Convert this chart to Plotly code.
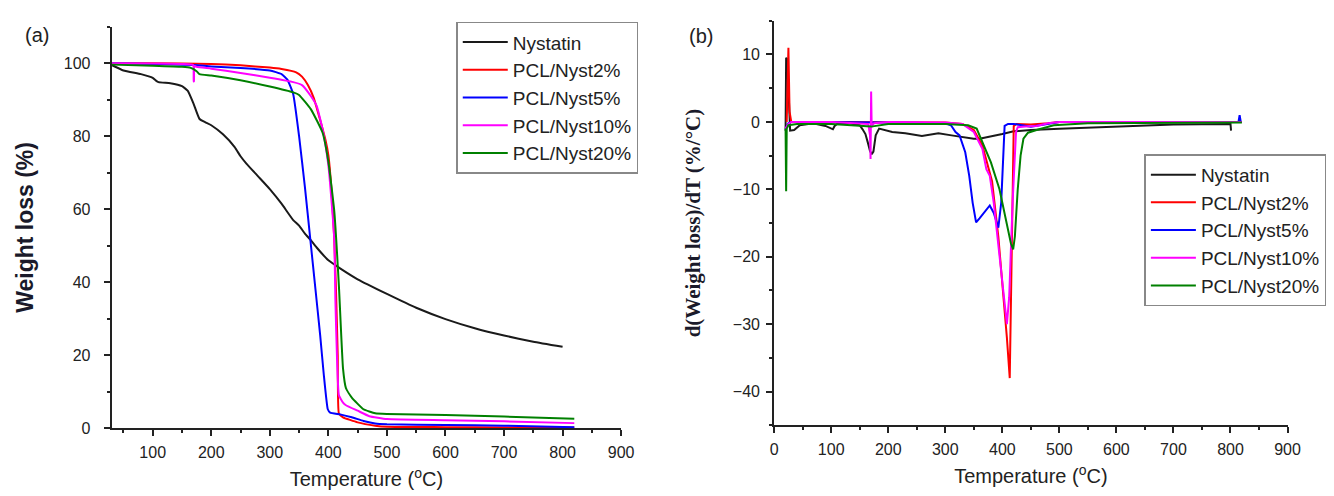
import plotly.graph_objects as go

# ---------------- Panel (a): TGA weight loss ----------------
names = ["Nystatin", "PCL/Nyst2%", "PCL/Nyst5%", "PCL/Nyst10%", "PCL/Nyst20%"]
colors = ["#1a1a1a", "#ff0000", "#0000ff", "#ff00ff", "#008000"]

a_nys_x = [30, 50, 80, 100, 105, 110, 130, 150, 160, 170, 180, 190, 200, 220, 240, 250, 260, 280, 300,
           320, 340, 350, 360, 370, 380, 400, 420, 450, 500, 550, 600, 650, 700, 750, 800]
a_nys_y = [99.5, 98, 97, 96, 95.3, 94.8, 94.5, 93.7, 92.4, 88.8, 84.7, 83.8, 83, 80.5, 77, 74.5, 72.5, 69, 65.5,
           61.5, 57, 55.5, 53.3, 51.5, 49.5, 46, 43.8, 40.8, 36.8, 33, 29.9, 27.4, 25.4, 23.7, 22.3]

a_p2_x = [30, 100, 200, 250, 300, 320, 345, 355, 365, 375, 385, 395, 400, 405, 410, 413, 416, 418, 425, 450, 480, 500, 600, 700, 820]
a_p2_y = [100, 100, 99.8, 99.4, 98.8, 98.4, 97.5, 96.3, 94, 90.5, 85, 79, 74.8, 66, 52, 38, 20, 4, 3, 1.6, 0.7, 0.4, 0.3, 0.2, 0.2]

a_p5_x = [30, 100, 170, 200, 250, 300, 320, 330, 340, 350, 360, 369, 378, 386, 392, 399, 403, 420, 440, 460, 480, 500, 600, 700, 820]
a_p5_y = [100, 99.8, 99.5, 99.1, 98.7, 98, 97, 95.5, 91.5, 80, 66, 52, 38, 25.5, 15, 5.2, 4.3, 3.8, 3, 2, 1.3, 1.1, 0.9, 0.7, 0.3]

a_p10_x = [30, 100, 150, 169, 170, 170.5, 171, 175, 200, 250, 300, 340, 355, 370, 380, 390, 400, 405, 410, 412, 415, 418, 425, 430,
           450, 470, 500, 600, 700, 820]
a_p10_y = [100, 99.9, 99.8, 99.5, 95, 95, 99.3, 99, 98.5, 97.3, 96, 94.8, 94, 91, 88.3, 82, 72, 63, 52, 35, 18, 9, 7, 6.3,
           4.8, 3.3, 2.5, 2.2, 1.9, 1.4]

a_p20_x = [30, 100, 150, 165, 175, 180, 200, 250, 300, 340, 350, 370, 390, 400, 410, 418, 425, 430, 440, 460, 480, 500, 600, 700, 820]
a_p20_y = [99.6, 99.3, 99, 98.7, 97.8, 97, 96.6, 95.3, 93.6, 92, 91.3, 87.4, 81, 73, 59.6, 39, 16.4, 11, 8.4, 5.2, 4.1, 3.9, 3.6, 3.2, 2.6]

# ---------------- Panel (b): DTG ----------------
b_nys_x = [20, 21, 23, 28, 35, 45, 60, 74, 90, 100, 103, 106, 112, 132, 150, 155, 160, 164, 168, 171, 174, 178, 184,
           207, 230, 259, 288, 311, 334, 350, 360, 380, 400, 420, 450, 500, 600, 700, 799, 800, 801]
b_nys_y = [-1.3, 9.5, 9.3, -1.3, -1.2, -0.5, -0.3, -0.3, -0.6, -1.0, -1.1, -0.6, -0.2, -0.2, -0.5, -1.1, -1.8, -3.0, -4.3, -4.8, -4.4, -2.0, -1.0,
           -1.5, -1.7, -2.1, -1.7, -2.0, -2.3, -2.5, -2.5, -2.2, -1.8, -1.4, -1.2, -1.0, -0.7, -0.4, -0.3, -0.3, -1.3]

b_p2_x = [22, 24, 25, 27, 30, 100, 200, 300, 330, 350, 365, 382, 393, 403, 408, 413, 417, 420, 425, 450, 480, 500, 600, 700, 820]
b_p2_y = [0, 8, 11, 1.5, 0, 0, 0, -0.1, -0.3, -1.2, -3.5, -8.8, -17, -26.8, -32, -38, -17, -0.6, -0.3, -0.4, -0.2, 0, 0, 0, 0]

b_p5_x = [20, 25, 30, 100, 200, 300, 310, 318, 325, 335, 342, 348, 354, 360, 368, 378, 385, 393, 398, 401, 404, 410, 420,
          450, 470, 500, 600, 700, 814, 816, 818]
b_p5_y = [-1, -0.2, 0, 0, -0.1, -0.2, -0.5, -1.5, -2, -4.5, -8, -12, -14.9, -14.3, -13.5, -12.4, -13.5, -15.7, -12, -5, -0.6, -0.3, -0.3,
          -0.7, -0.4, 0, 0, 0, 0, 1, 0]

b_p10_x = [20, 25, 30, 100, 165, 168, 169, 170, 171, 172, 175, 200, 300, 330, 350, 365, 372, 378, 385, 395, 403, 408, 412, 418, 424, 427,
           440, 460, 480, 500, 600, 700, 820]
b_p10_y = [-1, -0.3, 0, 0, -0.3, -2, -5.5, 4.5, -0.8, -0.5, -0.2, 0, -0.1, -0.3, -1.5, -4, -7, -8, -12, -20, -27, -30, -26, -12, -1.5, -0.8,
           -0.7, -0.6, -0.2, 0, 0, 0, 0]

b_p20_x = [20, 21, 22, 25, 40, 100, 170, 200, 300, 340, 355, 365, 380, 395, 408, 415, 419, 422, 427, 432, 437, 445, 460, 490,
           550, 700, 820]
b_p20_y = [-1, -10.3, -1, -0.5, -0.3, -0.3, -0.7, -0.3, -0.3, -0.5, -1, -3, -6, -10, -15, -18, -18.9, -17, -10, -5, -2.5, -1.6, -1.2, -0.5,
           -0.2, -0.1, -0.1]

a_sets = [(a_nys_x, a_nys_y), (a_p2_x, a_p2_y), (a_p5_x, a_p5_y), (a_p10_x, a_p10_y), (a_p20_x, a_p20_y)]
b_sets = [(b_nys_x, b_nys_y), (b_p2_x, b_p2_y), (b_p5_x, b_p5_y), (b_p10_x, b_p10_y), (b_p20_x, b_p20_y)]

fig = go.Figure()
for i, (xs, ys) in enumerate(a_sets):
    fig.add_trace(go.Scatter(x=xs, y=ys, mode="lines", name=names[i], line=dict(color=colors[i], width=2, shape="spline", smoothing=0.4),
                             xaxis="x", yaxis="y", legend="legend"))
for i, (xs, ys) in enumerate(b_sets):
    fig.add_trace(go.Scatter(x=xs, y=ys, mode="lines", name=names[i], line=dict(color=colors[i], width=2),
                             xaxis="x2", yaxis="y2", legend="legend2"))

W, H = 1334, 496
font_family = "Liberation Sans, Arial, sans-serif"
axis_common = dict(showline=True, linecolor="#222", linewidth=2, ticks="outside", ticklen=6, tickwidth=1.5,
                   tickcolor="#222", showgrid=False, zeroline=False, mirror=False,
                   tickfont=dict(family=font_family, size=16, color="#222"))
minor_common = dict(ticks="outside", ticklen=3, tickcolor="#222", tickwidth=1.5)
xtitle_font = dict(family=font_family, size=20, color="#222")
legend_font = dict(family=font_family, size=19, color="#222")

fig.update_layout(
    width=W, height=H,
    margin=dict(l=0, r=0, t=0, b=0),
    paper_bgcolor="white", plot_bgcolor="white",
    showlegend=True,
    xaxis=dict(domain=[101 / W, 617 / W], range=[30, 900], anchor="y", tickmode="array",
               tickvals=[100, 200, 300, 400, 500, 600, 700, 800, 900],
               minor=dict(tickvals=[50, 150, 250, 350, 450, 550, 650, 750, 850], **minor_common),
               ticklabelstandoff=3,
               title=dict(text="Temperature (<sup>o</sup>C)", font=xtitle_font, standoff=12),
               **axis_common),
    yaxis=dict(domain=[1 - 428 / H, 1 - 19 / H], range=[0, 110], anchor="x", tickmode="array",
               tickvals=[0, 20, 40, 60, 80, 100],
               minor=dict(tickvals=[10, 30, 50, 70, 90, 110], **minor_common),
               ticklabelstandoff=10,
               title=dict(text="<b>Weight loss (%)</b>", font=dict(family=font_family, size=23, color="#1a1a2a"), standoff=24),
               **axis_common),
    xaxis2=dict(domain=[772 / W, 1292 / W], range=[0, 900], anchor="y2", tickmode="array",
                tickvals=[0, 100, 200, 300, 400, 500, 600, 700, 800, 900],
                minor=dict(tickvals=[50, 150, 250, 350, 450, 550, 650, 750, 850], **minor_common),
                ticklabelstandoff=3,
                title=dict(text="Temperature (<sup>o</sup>C)", font=xtitle_font, standoff=12),
                **axis_common),
    yaxis2=dict(domain=[1 - 425 / H, 1 - 13 / H], range=[-45, 15], anchor="x2", tickmode="array",
                tickvals=[-40, -30, -20, -10, 0, 10],
                minor=dict(tickvals=[-45, -35, -25, -15, -5, 5, 15], **minor_common),
                ticklabelstandoff=3,
                title=dict(text="<b>d(Weight loss)/dT (%/°C)</b>", font=dict(family="Liberation Serif, Times New Roman, serif", size=21, color="#1a1a2a"), standoff=26),
                **axis_common),
    legend=dict(x=450 / W, y=1 - 14 / H, xanchor="left", yanchor="top", bgcolor="white",
                bordercolor="#888", borderwidth=1.5, font=legend_font, tracegroupgap=0, itemwidth=45),
    legend2=dict(x=1147 / W, y=1 - 149 / H, xanchor="left", yanchor="top", bgcolor="white",
                 bordercolor="#888", borderwidth=1.5, font=legend_font, tracegroupgap=0, itemwidth=45),
    annotations=[
        dict(text="(a)", x=11 / W, y=1 - 27 / H, xref="paper", yref="paper", xanchor="left", yanchor="middle",
             showarrow=False, font=dict(family=font_family, size=20, color="#222")),
        dict(text="(b)", x=684 / W, y=1 - 29 / H, xref="paper", yref="paper", xanchor="left", yanchor="middle",
             showarrow=False, font=dict(family=font_family, size=20, color="#222")),
    ],
)

fig.write_html("out.html")
